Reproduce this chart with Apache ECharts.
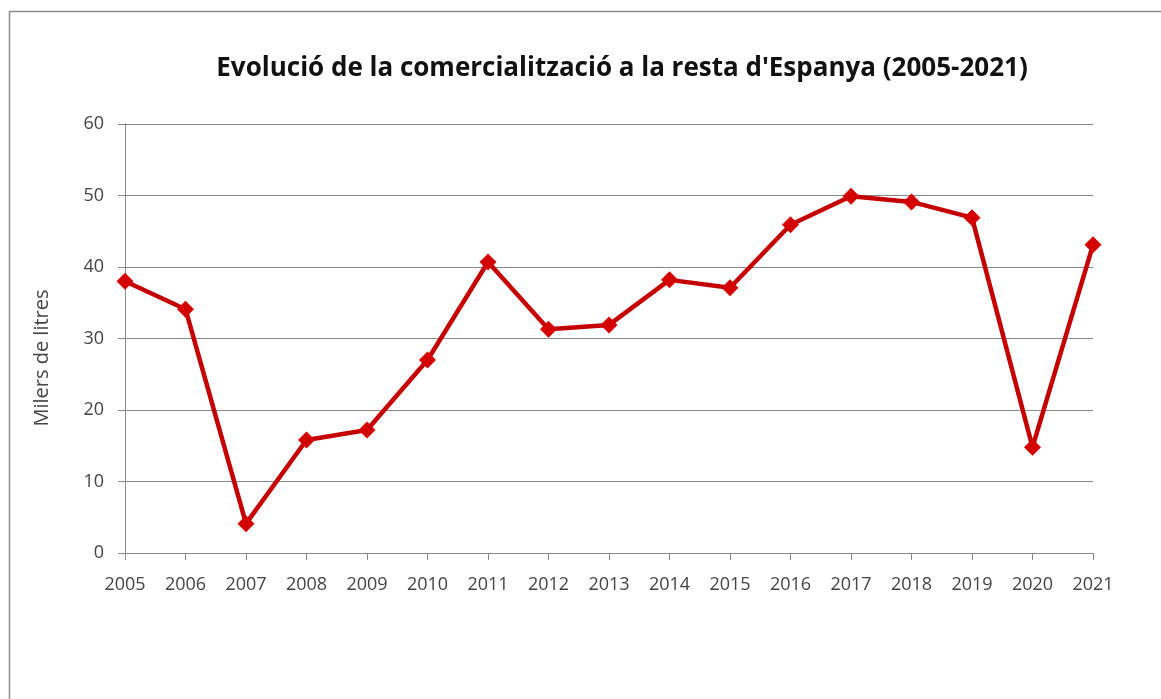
<!DOCTYPE html>
<html><head><meta charset="utf-8">
<script src="https://cdn.jsdelivr.net/npm/echarts@6/dist/echarts.min.js"></script>
<style>html,body{margin:0;padding:0;background:#fff}#c{width:1161px;height:699px}</style>
</head><body><div id="c"></div>
<script>
const titleText = "Evolució de la comercialització a la resta d'Espanya (2005-2021)";
const yAxisName = "Milers de litres";
const years = ["2005","2006","2007","2008","2009","2010","2011","2012","2013","2014","2015","2016","2017","2018","2019","2020","2021"];
const values = [38.0, 34.1, 4.1, 15.8, 17.2, 27.0, 40.7, 31.3, 31.9, 38.2, 37.1, 45.9, 49.9, 49.1, 46.9, 14.8, 43.1];
const yTicks = {min: 0, max: 60, interval: 10};

const chart = echarts.init(document.getElementById('c'), null, {renderer: 'canvas'});
chart.setOption({
  backgroundColor: '#fff',
  animation: false,
  graphic: [{
    type: 'rect', left: 7, top: 9, silent: true,
    shape: {x: 0, y: 0, width: 1300, height: 900},
    style: {fill: 'none', stroke: '#8a8a8a', lineWidth: 1.5}
  }, {
    type: 'text', x: 42, y: 358, rotation: Math.PI / 2, silent: true,
    style: {text: yAxisName, fill: '#444', font: '20px "Open Sans"', align: 'center', verticalAlign: 'middle'}
  }],
  title: {
    text: titleText, left: 617, top: 51, textAlign: 'center',
    textStyle: {fontFamily: 'Open Sans', fontWeight: 'bold', fontSize: 26, color: '#111'}
  },
  grid: {left: 125, right: 68, top: 124, bottom: 146, containLabel: false},
  xAxis: {
    type: 'category', data: years, boundaryGap: false,
    axisLine: {lineStyle: {color: '#888', width: 1}},
    axisTick: {show: true, length: 7, alignWithLabel: true, lineStyle: {color: '#888'}},
    axisLabel: {color: '#444', fontFamily: 'Open Sans', fontSize: 18, margin: 23, interval: 0}
  },
  yAxis: {
    type: 'value', min: yTicks.min, max: yTicks.max, interval: yTicks.interval,
    axisLine: {show: true, lineStyle: {color: '#888', width: 1}},
    axisTick: {show: true, length: 7, lineStyle: {color: '#888'}},
    splitLine: {lineStyle: {color: '#888', width: 1}},
    axisLabel: {color: '#444', fontFamily: 'Open Sans', fontSize: 18, margin: 21}
  },
  series: [{
    type: 'line', data: values,
    lineStyle: {color: '#c40000', width: 4.5},
    itemStyle: {color: '#d40000'},
    symbol: 'diamond', symbolSize: 17, showSymbol: true
  }]
});
</script></body></html>
